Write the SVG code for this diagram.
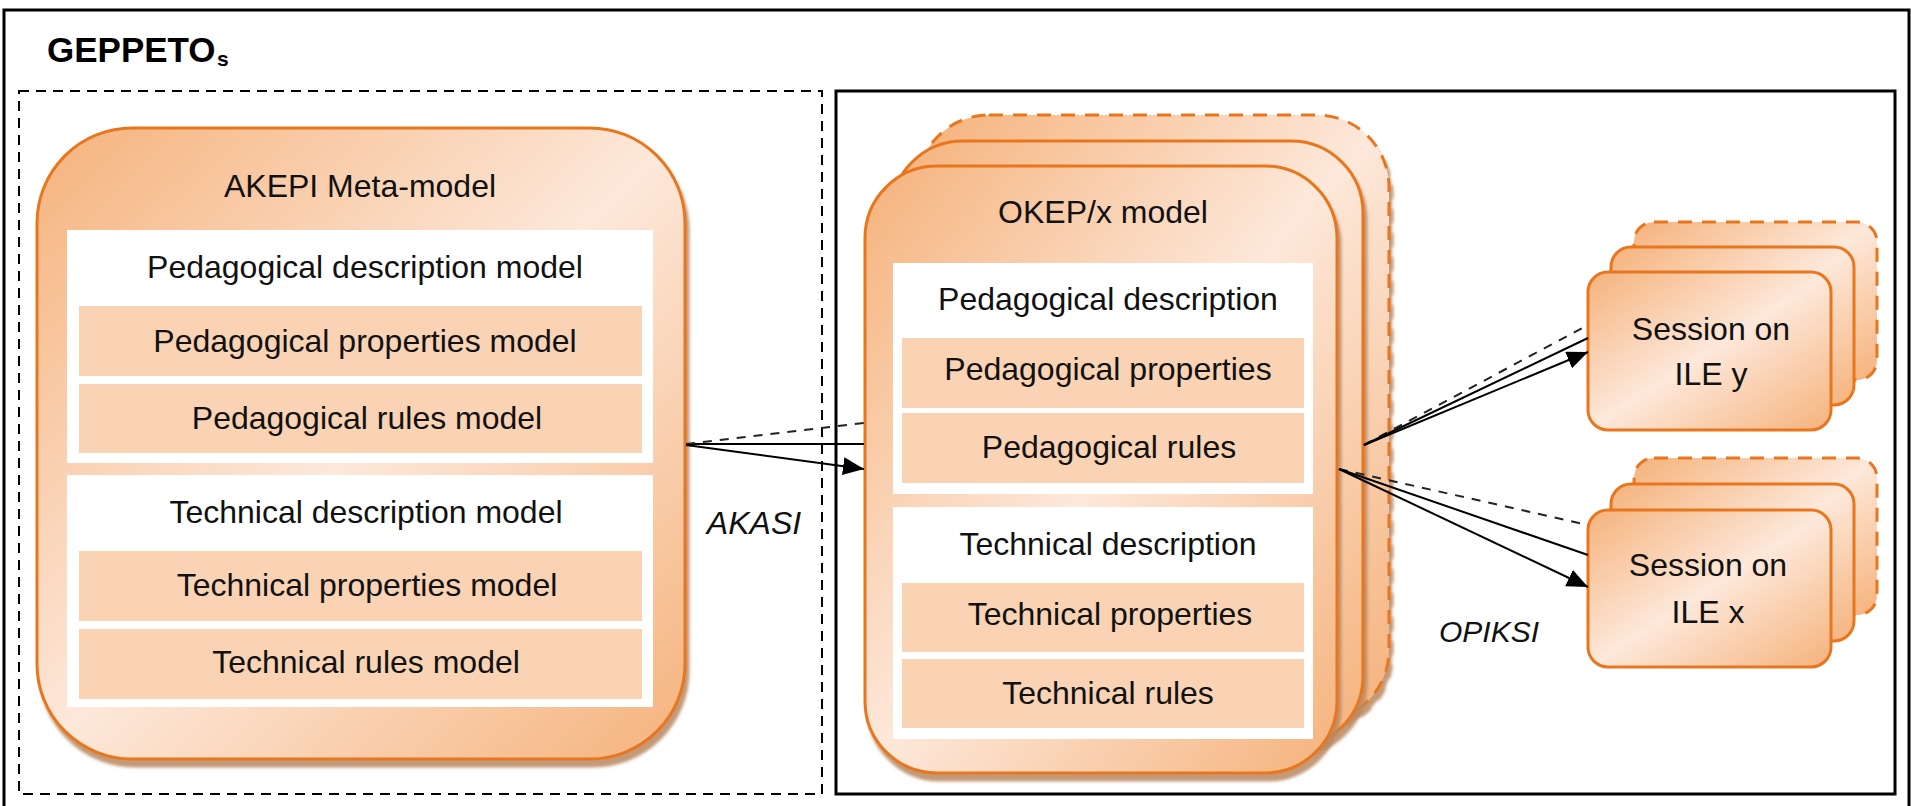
<svg xmlns="http://www.w3.org/2000/svg" width="1911" height="806" viewBox="0 0 1911 806">
  <defs>
    <linearGradient id="nodeFill" x1="0" y1="0" x2="1" y2="1">
      <stop offset="0" stop-color="#F5B27B"/>
      <stop offset="0.5" stop-color="#FDE8DA"/>
      <stop offset="1" stop-color="#F5B27B"/>
    </linearGradient>
    <filter id="shadow" x="-5%" y="-5%" width="115%" height="115%">
      <feGaussianBlur in="SourceAlpha" stdDeviation="1.8"/>
      <feOffset dx="3" dy="7" result="off"/>
      <feFlood flood-color="#B98860" flood-opacity="0.85"/>
      <feComposite in2="off" operator="in"/>
      <feMerge>
        <feMergeNode/>
        <feMergeNode in="SourceGraphic"/>
      </feMerge>
    </filter>
    <marker id="arrow" markerUnits="userSpaceOnUse" markerWidth="22" markerHeight="20" refX="21" refY="9" orient="auto">
      <path d="M0,0 L21,9 L0,18 Z" fill="#000"/>
    </marker>
    <style>
      .frame { fill: none; stroke: #000; }
      .node { fill: url(#nodeFill); stroke: #E8761F; stroke-width: 3; }
      .layer-dash { stroke-dasharray: 14 10; }
      .panel { fill: #FFFFFF; }
      .cell { fill: #FAD3B4; }
      .label { font-family: "Liberation Sans", Arial, sans-serif; font-size: 32px; fill: #111; text-anchor: middle; }
      .title { font-family: "Liberation Sans", Arial, sans-serif; font-weight: bold; fill: #000; }
      .flow { font-family: "Liberation Sans", Arial, sans-serif; font-style: italic; fill: #111; text-anchor: middle; }
      .link { fill: none; stroke: #000; stroke-width: 2; }
      .link-dash { fill: none; stroke: #222; stroke-width: 2; stroke-dasharray: 9 8; }
    </style>
  </defs>

  <rect width="1911" height="806" fill="#FFFFFF"/>

  <!-- outer GEPPETO frame and the two regions -->
  <g id="frames">
    <rect class="frame" x="4" y="10" width="1905" height="805" stroke-width="3"/>
    <rect class="frame" x="19" y="91" width="803" height="703" stroke-width="2" stroke-dasharray="10 7"/>
    <rect class="frame" x="836" y="91" width="1059" height="703" stroke-width="3"/>
    <text class="title" x="47" y="62" font-size="35">GEPPETO</text>
    <text class="title" x="217" y="66" font-size="21">s</text>
  </g>

  <!-- AKEPI meta-model -->
  <g id="akepi">
    <rect class="node" x="37" y="128" width="648" height="631" rx="95" ry="95" filter="url(#shadow)"/>
    <text class="label" x="360" y="197">AKEPI Meta-model</text>
    <rect class="panel" x="67" y="230" width="586" height="233"/>
    <text class="label" x="365" y="278">Pedagogical description model</text>
    <rect class="cell" x="79" y="306" width="563" height="70"/>
    <text class="label" x="365" y="352">Pedagogical properties model</text>
    <rect class="cell" x="79" y="384" width="563" height="69"/>
    <text class="label" x="367" y="429">Pedagogical rules model</text>
    <rect class="panel" x="67" y="475" width="586" height="232"/>
    <text class="label" x="366" y="523">Technical description model</text>
    <rect class="cell" x="79" y="551" width="563" height="70"/>
    <text class="label" x="367" y="596">Technical properties model</text>
    <rect class="cell" x="79" y="629" width="563" height="70"/>
    <text class="label" x="366" y="673">Technical rules model</text>
  </g>

  <!-- OKEP/x model (stack of instances) -->
  <g id="okep">
    <rect class="node layer-dash" x="917" y="115" width="472" height="607" rx="72" ry="72" filter="url(#shadow)"/>
    <rect class="node" x="891" y="141" width="472" height="607" rx="72" ry="72" filter="url(#shadow)"/>
    <rect class="node" x="865" y="166" width="472" height="607" rx="72" ry="72" filter="url(#shadow)"/>
    <text class="label" x="1103" y="223">OKEP/x model</text>
    <rect class="panel" x="893" y="263" width="420" height="231"/>
    <text class="label" x="1108" y="310">Pedagogical description</text>
    <rect class="cell" x="902" y="338" width="402" height="70"/>
    <text class="label" x="1108" y="380">Pedagogical properties</text>
    <rect class="cell" x="902" y="413" width="402" height="70"/>
    <text class="label" x="1109" y="458">Pedagogical rules</text>
    <rect class="panel" x="893" y="507" width="420" height="232"/>
    <text class="label" x="1108" y="555">Technical description</text>
    <rect class="cell" x="902" y="583" width="402" height="69"/>
    <text class="label" x="1110" y="625">Technical properties</text>
    <rect class="cell" x="902" y="659" width="402" height="69"/>
    <text class="label" x="1108" y="704">Technical rules</text>
  </g>

  <!-- session on ILE y -->
  <g id="session-y">
    <rect class="node layer-dash" x="1634" y="222" width="243" height="158" rx="20" ry="20"/>
    <rect class="node" x="1611" y="247" width="243" height="158" rx="20" ry="20"/>
    <rect class="node" x="1588" y="272" width="243" height="158" rx="20" ry="20"/>
    <text class="label" x="1711" y="340">Session on</text>
    <text class="label" x="1711" y="385">ILE y</text>
  </g>

  <!-- session on ILE x -->
  <g id="session-x">
    <rect class="node layer-dash" x="1634" y="458" width="243" height="157" rx="20" ry="20"/>
    <rect class="node" x="1611" y="484" width="243" height="157" rx="20" ry="20"/>
    <rect class="node" x="1588" y="510" width="243" height="157" rx="20" ry="20"/>
    <text class="label" x="1708" y="576">Session on</text>
    <text class="label" x="1708" y="623">ILE x</text>
  </g>

  <!-- connectors -->
  <g id="connectors">
    <line class="link" x1="686" y1="444" x2="864" y2="444"/>
    <line class="link-dash" x1="686" y1="444" x2="864" y2="423"/>
    <line class="link" x1="686" y1="445" x2="864" y2="469" marker-end="url(#arrow)"/>

    <line class="link-dash" x1="1364" y1="445" x2="1588" y2="325"/>
    <line class="link" x1="1364" y1="445" x2="1588" y2="338"/>
    <line class="link" x1="1364" y1="445" x2="1588" y2="352" marker-end="url(#arrow)"/>

    <line class="link-dash" x1="1339" y1="469" x2="1588" y2="525"/>
    <line class="link" x1="1339" y1="469" x2="1588" y2="555"/>
    <line class="link" x1="1339" y1="469" x2="1588" y2="587" marker-end="url(#arrow)"/>

    <text class="flow" x="754" y="534" font-size="32">AKASI</text>
    <text class="flow" x="1489" y="642" font-size="30">OPIKSI</text>
  </g>
</svg>
